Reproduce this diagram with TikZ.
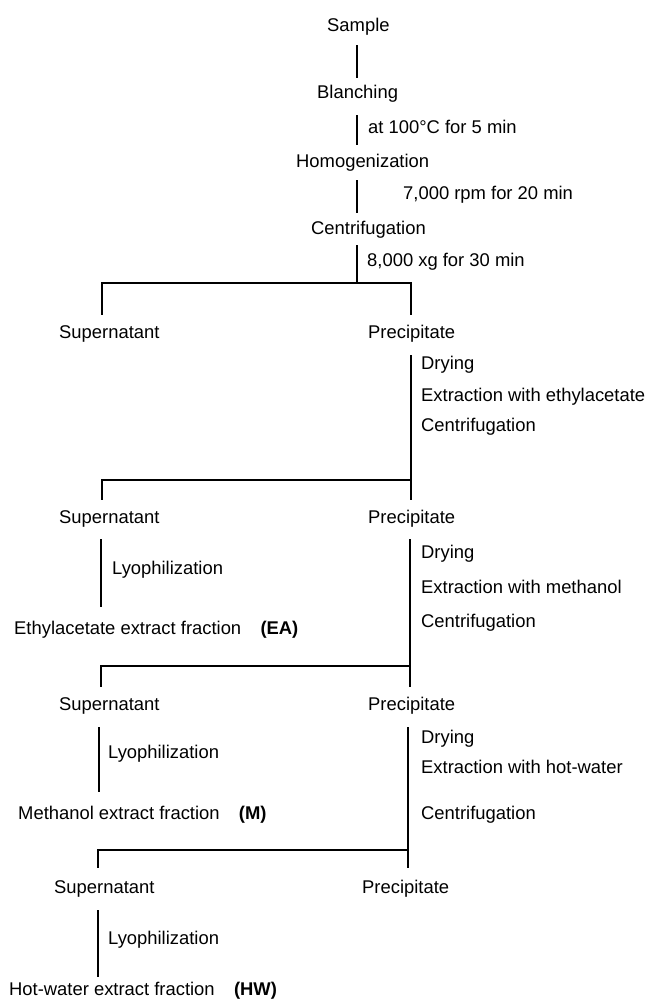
\documentclass[tikz,border=0pt]{standalone}
\usepackage{fontspec}
\setmainfont{Liberation Sans}
\usetikzlibrary{calc}
\begin{document}
\begin{tikzpicture}[x=1pt,y=1pt,
  lbl/.style={inner sep=0pt,text height=13pt,text depth=0pt,anchor=west,font=\fontsize{18.4}{21}\selectfont},
  ln/.style={line width=1.2pt}]
\useasboundingbox[fill=white] (0,0) rectangle (649,-999);
% main trunk
\node[lbl] (sample) at (327,-25) {Sample};
\node[lbl] (blanch) at (317,-92) {Blanching};
\node[lbl] (cond1) at (368,-127) {at 100°C for 5 min};
\node[lbl] (homog) at (296,-161) {Homogenization};
\node[lbl] (cond2) at (403,-193) {7,000 rpm for 20 min};
\node[lbl] (centr) at (311,-228) {Centrifugation};
\node[lbl] (cond3) at (367,-260) {8,000 xg for 30 min};
% level 1
\node[lbl] (sup1) at (59,-332) {Supernatant};
\node[lbl] (prec1) at (368,-332) {Precipitate};
\node[lbl] (dry1) at (421,-363) {Drying};
\node[lbl] (ext1) at (421,-395) {Extraction with ethylacetate};
\node[lbl] (cen1) at (421,-425) {Centrifugation};
% level 2
\node[lbl] (sup2) at (59,-517) {Supernatant};
\node[lbl] (prec2) at (368,-517) {Precipitate};
\node[lbl] (lyo1) at (112,-568) {Lyophilization};
\node[lbl] (ea) at (14,-628) {Ethylacetate extract fraction\hspace{1.05em}\textbf{(EA)}};
\node[lbl] (dry2) at (421,-552) {Drying};
\node[lbl] (ext2) at (421,-587) {Extraction with methanol};
\node[lbl] (cen2) at (421,-621) {Centrifugation};
% level 3
\node[lbl] (sup3) at (59,-704) {Supernatant};
\node[lbl] (prec3) at (368,-704) {Precipitate};
\node[lbl] (lyo2) at (108,-752) {Lyophilization};
\node[lbl] (m) at (18,-813) {Methanol extract fraction\hspace{1.05em}\textbf{(M)}};
\node[lbl] (dry3) at (421,-737) {Drying};
\node[lbl] (ext3) at (421,-767) {Extraction with hot-water};
\node[lbl] (cen3) at (421,-813) {Centrifugation};
% level 4
\node[lbl] (sup4) at (54,-887) {Supernatant};
\node[lbl] (prec4) at (362,-887) {Precipitate};
\node[lbl] (lyo3) at (108,-938) {Lyophilization};
\node[lbl] (hw) at (9,-989) {Hot-water extract fraction\hspace{1.05em}\textbf{(HW)}};
% columns / bracket corners
\coordinate (t) at (357,0);
\coordinate (b1L) at (102,-283);
\coordinate (b1R) at (411,-283);
\coordinate (b2L) at (102,-480);
\coordinate (b2R) at (411,-480);
\coordinate (b3L) at (101,-666);
\coordinate (b3R) at (410,-666);
\coordinate (b4L) at (98,-850);
\coordinate (b4R) at (408,-850);
% trunk connectors
\draw[ln] ($(sample.south -| t)+(0,-13.5)$) -- ($(blanch.north -| t)+(0,7.5)$);
\draw[ln] ($(blanch.south -| t)+(0,-16.5)$) -- ($(homog.north -| t)+(0,9.5)$);
\draw[ln] ($(homog.south -| t)+(0,-12.5)$) -- ($(centr.north -| t)+(0,8.5)$);
\draw[ln] ($(centr.south -| t)+(0,-10.5)$) -- (t |- b1L);
% bracket 1
\draw[ln] ($(sup1.north -| b1L)+(0,10.5)$) -- (b1L) -- (b1R) -- ($(prec1.north -| b1R)+(0,10.5)$);
% precipitate 1 -> bracket 2
\draw[ln] ($(prec1.south -| b1R)+(0,-16.5)$) -- ($(prec2.north -| b2R)+(0,10.5)$);
\draw[ln] ($(sup2.north -| b2L)+(0,10.5)$) -- (b2L) -- (b2R);
% supernatant 2 -> EA
\draw[ln] ($(sup2.south -| b3L)+(0,-15.5)$) -- ($(ea.north -| b3L)+(0,14.5)$);
% precipitate 2 -> bracket 3
\draw[ln] ($(prec2.south -| b3R)+(0,-15.5)$) -- ($(prec3.north -| b3R)+(0,10.5)$);
\draw[ln] ($(sup3.north -| b3L)+(0,10.5)$) -- (b3L) -- (b3R);
% supernatant 3 -> M
\draw[ln] ($(sup3.south -| 99,0)+(0,-16.5)$) -- ($(m.north -| 99,0)+(0,14.5)$);
% precipitate 3 -> bracket 4
\draw[ln] ($(prec3.south -| b4R)+(0,-16.5)$) -- ($(prec4.north -| b4R)+(0,12.5)$);
\draw[ln] ($(sup4.north -| b4L)+(0,12.5)$) -- (b4L) -- (b4R);
% supernatant 4 -> HW
\draw[ln] ($(sup4.south -| b4L)+(0,-16.5)$) -- ($(hw.north -| b4L)+(0,5.5)$);
\end{tikzpicture}
\end{document}
